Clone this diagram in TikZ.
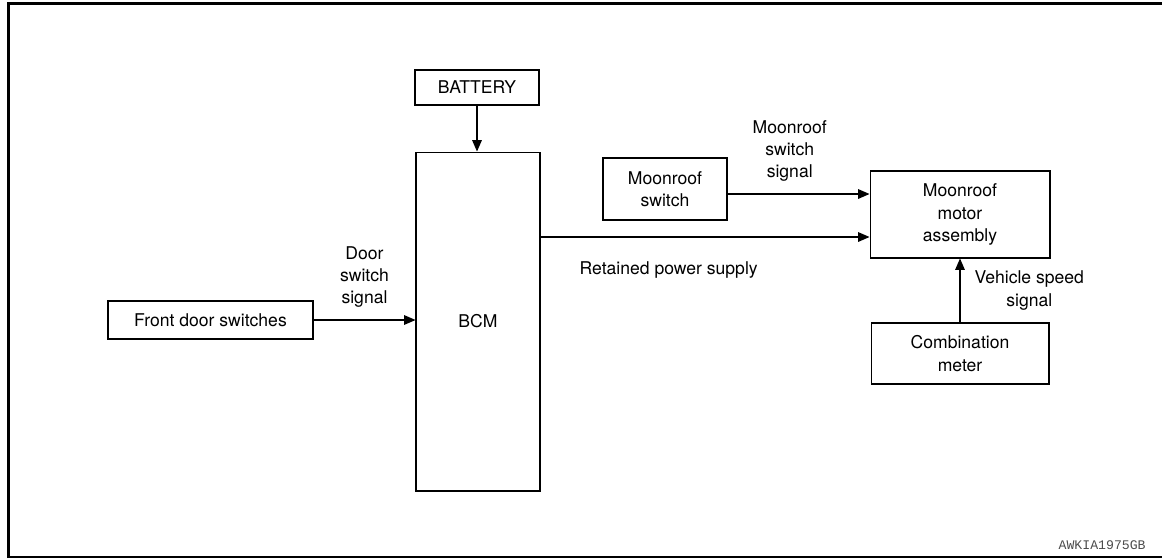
\documentclass[tikz,border=0pt]{standalone}
\usepackage{fontspec}
\setmainfont{TeX Gyre Heros}
\setmonofont{Liberation Mono}
\usetikzlibrary{arrows.meta, positioning}

\begin{document}
\begin{tikzpicture}[
    x=0.02cm, y=-0.02cm,
    font=\fontsize{10}{12.6}\selectfont,
    box/.style={rectangle, draw, line width=0.6pt, align=center, inner sep=0pt},
    arr/.style={-{Triangle[length=6.5pt, width=5.5pt]}, line width=0.6pt},
    lbl/.style={align=center, inner sep=0pt},
]
\useasboundingbox (0,0) rectangle (1162,558);

% Frame
\draw[line width=1.8pt] (8.5,558) -- (8.5,3.5) -- (1162,3.5);
\draw[line width=0.7pt] (8.5,557) -- (1162,557);

% Blocks
\node[box, minimum width=2.48cm, minimum height=0.7cm]  (bat)   at (477,87.5)  {BATTERY};
\node[box, minimum width=2.48cm, minimum height=6.78cm] (bcm)   at (478,321.5) {BCM};
\node[box, minimum width=4.1cm,  minimum height=0.76cm] (door)  at (210.5,320) {Front door switches};
\node[box, minimum width=2.48cm, minimum height=1.24cm] (msw)   at (665,189)   {Moonroof\\switch};
\node[box, minimum width=3.6cm,  minimum height=1.74cm] (motor) at (960,214.5) {Moonroof\\motor\\assembly};
\node[box, minimum width=3.56cm, minimum height=1.22cm] (meter) at (960,353.5) {Combination\\meter};

% Signals
\draw[arr] (bat.south) -- (bat.south |- bcm.north);
\draw[arr] (door.east) -- node[lbl, above=7pt]{Door\\switch\\signal} (door.east -| bcm.west);
\draw[arr] (msw.east |- 0,194) -- node[lbl, above=7pt, xshift=-5pt]{Moonroof\\switch\\signal} (motor.west |- 0,194);
\draw[arr] (bcm.east |- 0,237) -- node[lbl, below right=14pt and 22pt, pos=0]{Retained power supply} (motor.west |- 0,237);
\draw[arr] (meter.north) -- node[lbl, right=8pt]{Vehicle speed\\signal} (motor.south);

% Drawing number
\node[font=\ttfamily\fontsize{7.5}{9}\selectfont, text=black!70, anchor=base east, inner sep=0pt]
    (code) at (1146,549) {AWKIA1975GB};
\end{tikzpicture}
\end{document}
